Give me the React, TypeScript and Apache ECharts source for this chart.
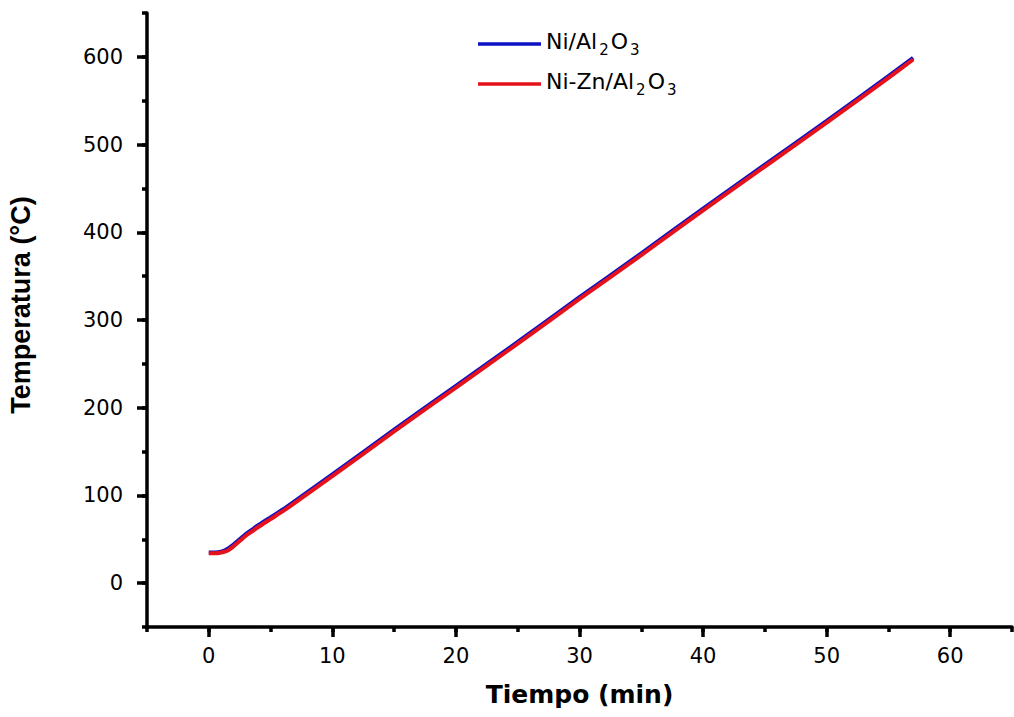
import React, { useEffect, useRef } from "react";
import * as echarts from "echarts";

const timeMin = [0, 0.5, 1, 1.5, 2, 2.5, 3, 3.5, 4, 5, 6, 7.5, 10, 15, 20, 25, 30, 35, 40, 45, 50, 55, 57];
const niAl = [35, 35, 36, 39, 44, 50, 56, 61, 66, 75, 84, 99, 124, 175, 225, 275, 326, 376, 427, 477, 527, 578, 599];
const niZnAl = [34, 34, 35, 37, 42, 48, 54, 59, 64, 73, 82, 97, 122, 173, 223, 273, 324, 374, 425, 475, 525, 576, 597];
const yMajorTicks = [0, 100, 200, 300, 400, 500, 600];
const xMajorTicks = [0, 10, 20, 30, 40, 50, 60];
const seriesNames = ["Ni/Al2O3", "Ni-Zn/Al2O3"];

const WIDE = "'DejaVu Sans', 'Liberation Sans', Arial, sans-serif";
const ARIAL = "'Liberation Sans', Arial, sans-serif";

export default function App() {
  const ref = useRef<HTMLDivElement>(null);
  useEffect(() => {
    if (!ref.current) return;
    const chart = echarts.init(ref.current, null, { renderer: "svg" });
    const toPairs = (ys: number[]) => timeMin.map((t, i) => [t, ys[i]]);
    const axisLine = { show: true, onZero: false, lineStyle: { color: "#000", width: 3.5 } };
    chart.setOption({
      animation: false,
      backgroundColor: "#fff",
      grid: { left: 147, right: 2, top: 13, bottom: 90, containLabel: false, outerBoundsMode: "none" },
      legend: {
        orient: "vertical",
        left: 478,
        top: 30,
        padding: 0,
        itemWidth: 63,
        itemHeight: 3.5,
        itemGap: 13,
        icon: "rect",
        data: seriesNames,
        formatter: (name: string) =>
          name === "Ni/Al2O3"
            ? "{n|Ni/Al}{s|2}{n|O}{s|3}"
            : "{n|Ni-Zn/Al}{s|2}{n|O}{s|3}",
        textStyle: {
          rich: {
            n: { fontSize: 22, fontFamily: WIDE, color: "#000", lineHeight: 28, verticalAlign: "top" },
            s: { fontSize: 15, fontFamily: WIDE, color: "#000", lineHeight: 28, verticalAlign: "top", padding: [12, 2, 0, 2] },
          },
        },
      },
      xAxis: [
        {
          type: "value",
          min: -5,
          max: 65,
          interval: 5,
          name: "Tiempo (min)",
          nameLocation: "middle",
          nameGap: 55,
          nameTextStyle: { fontSize: 25, fontWeight: "bold", fontFamily: WIDE, color: "#000" },
          axisLine,
          splitLine: { show: false },
          axisTick: { show: true, customValues: xMajorTicks, length: 10, lineStyle: { color: "#000", width: 3.5 } },
          axisLabel: { customValues: xMajorTicks, fontSize: 21, fontFamily: WIDE, color: "#000", margin: 18 },
        },
        {
          type: "value",
          min: -5,
          max: 65,
          interval: 5,
          position: "bottom",
          axisLine: { show: false, onZero: false },
          splitLine: { show: false },
          axisTick: { show: true, length: 5, lineStyle: { color: "#000", width: 3.5 } },
          axisLabel: { show: false },
        },
      ],
      yAxis: [
        {
          type: "value",
          min: -50,
          max: 650,
          interval: 50,
          name: "Temperatura (°C)",
          nameLocation: "middle",
          nameGap: 113,
          nameTextStyle: { fontSize: 27, fontWeight: "bold", fontFamily: ARIAL, color: "#000", padding: [0, 0, 0, 30] },
          axisLine,
          splitLine: { show: false },
          axisTick: { show: true, customValues: yMajorTicks, length: 10, lineStyle: { color: "#000", width: 3.5 } },
          axisLabel: { customValues: yMajorTicks, fontSize: 21, fontFamily: WIDE, color: "#000", margin: 24 },
        },
        {
          type: "value",
          min: -50,
          max: 650,
          interval: 50,
          position: "left",
          axisLine: { show: false, onZero: false },
          splitLine: { show: false },
          axisTick: { show: true, length: 5, lineStyle: { color: "#000", width: 3.5 } },
          axisLabel: { show: false },
        },
      ],
      series: [
        {
          name: seriesNames[0],
          type: "line",
          data: toPairs(niAl),
          smooth: 0.2,
          showSymbol: false,
          lineStyle: { color: "#0c12c4", width: 4 },
          itemStyle: { color: "#0c12c4" },
        },
        {
          name: seriesNames[1],
          type: "line",
          data: toPairs(niZnAl),
          smooth: 0.2,
          showSymbol: false,
          lineStyle: { color: "#e5121c", width: 4 },
          itemStyle: { color: "#e5121c" },
        },
      ],
    });
    return () => chart.dispose();
  }, []);
  return (
    <div
      ref={ref}
      style={{ position: "fixed", left: 0, top: 0, width: 1014, height: 717, background: "#fff" }}
    />
  );
}
